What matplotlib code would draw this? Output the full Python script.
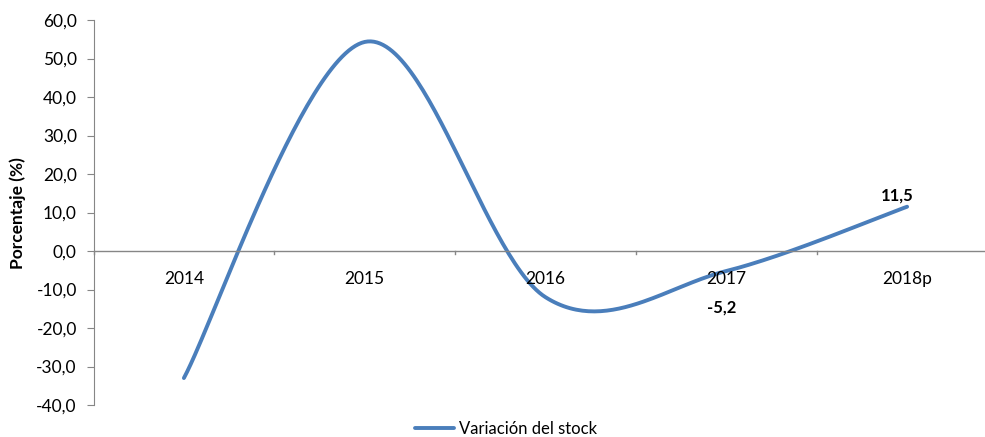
import numpy as np
import matplotlib
matplotlib.use("Agg")
import matplotlib.pyplot as plt
from matplotlib.ticker import FuncFormatter

categories = ["2014", "2015", "2016", "2017", "2018p"]
values = [-33.0, 54.3, -12.0, -5.2, 11.5]
labeled = {3: "-5,2", 4: "11,5"}
yticks = [-40, -30, -20, -10, 0, 10, 20, 30, 40, 50, 60]

plt.rcParams['font.family'] = ['Lato', 'DejaVu Sans']

def smooth(xs, ys, n=60):
    pts = np.column_stack([xs, ys]).astype(float)
    ext = np.vstack([pts[0], pts, pts[-1]])
    out = []
    for i in range(len(pts) - 1):
        p0, p1, p2, p3 = ext[i], ext[i + 1], ext[i + 2], ext[i + 3]
        b0 = p1
        b1 = p1 + (p2 - p0) / 6
        b2 = p2 - (p3 - p1) / 6
        b3 = p2
        t = np.linspace(0, 1, n)[:, None]
        seg = ((1 - t) ** 3) * b0 + 3 * ((1 - t) ** 2) * t * b1 + 3 * (1 - t) * t ** 2 * b2 + t ** 3 * b3
        out.append(seg if i == 0 else seg[1:])
    c = np.vstack(out)
    return c[:, 0], c[:, 1]

fig = plt.figure(figsize=(9.85, 4.37), dpi=100)
ax = fig.add_axes([93.5 / 985, 1 - 405 / 437, (997.5 - 93.5) / 985, 385 / 437])

x = np.arange(len(categories))
sx, sy = smooth(x, values)
color = "#4A7EBB"
line, = ax.plot(sx, sy, color=color, lw=2.8, solid_capstyle="round", label="Variación del stock")

ax.set_xlim(-0.5, len(categories) - 0.5)
ax.set_ylim(-40, 60)
ax.set_yticks(yticks)
ax.yaxis.set_major_formatter(FuncFormatter(lambda v, p: f"{v:.1f}".replace(".", ",")))

gray = "#868686"
for s in ["top", "right", "bottom"]:
    ax.spines[s].set_visible(False)
ax.spines["left"].set_color(gray)
ax.axhline(0, color=gray, lw=1)
ax.set_xticks([])
for b in np.arange(-0.5, len(categories), 1.0):
    ax.plot([b, b], [0, -0.8], color=gray, lw=1, clip_on=False)
for i, c in enumerate(categories):
    ax.text(i, -7.3, c, ha="center", va="center", fontsize=12.5, color="black")

ax.tick_params(axis="y", colors=gray, length=5, labelcolor="black", labelsize=12.5, pad=7)

for i, txt in labeled.items():
    if values[i] < 0:
        ax.annotate(txt, (x[i], values[i]), xytext=(-3, -26), textcoords="offset points",
                    ha="center", va="center", fontsize=12, fontweight="bold")
    else:
        ax.annotate(txt, (x[i], values[i]), xytext=(-7, 8), textcoords="offset points",
                    ha="center", va="center", fontsize=12, fontweight="bold")

fig.text(18 / 985, 1 - 213 / 437, "Porcentaje (%)", rotation=90, ha="center", va="center",
         fontsize=12.5, fontweight="bold")

fig.legend(handles=[line], loc="center", bbox_to_anchor=(506 / 985, 1 - 429 / 437),
           frameon=False, fontsize=12, handlelength=2.3, handletextpad=0.3)

fig.savefig("out.png", dpi=100)
